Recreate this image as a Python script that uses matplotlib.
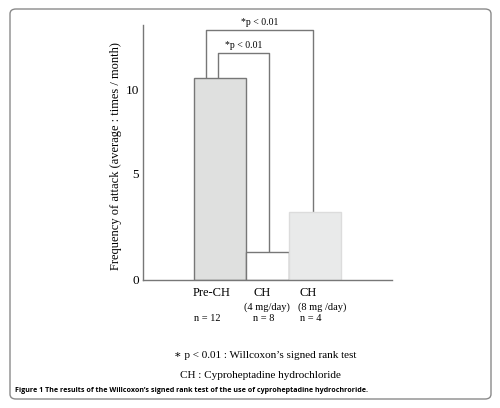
import matplotlib
matplotlib.use('Agg')
import matplotlib.pyplot as plt
from matplotlib.patches import FancyBboxPatch

# data
groups = ['Pre-CH', 'CH', 'CH']
doses = ['', '(4 mg/day)', '(8 mg /day)']
n_labels = ['n = 12', 'n = 8', 'n = 4']
freq = [10.6, 1.48, 3.56]
sig_label = '*p < 0.01'
ytick_vals = [0, 5.59, 9.98]
ytick_text = ['0', '5', '10']

# layout (axis units, 0..10 across)
bar_left = [2.06, 4.12, 5.86]
bar_width = [2.06, 1.74, 2.08]
bar_face = ['#dfe0df', 'white', '#e9eaea']
bar_edge = ['#777777', '#777777', '#dcdcdc']
group_x = [2.76, 4.78, 6.64]
dose_x = [4.98, 4.98, 7.18]
n_x = [2.58, 4.86, 6.75]

W, H = 500, 408
fig = plt.figure(figsize=(W / 100, H / 100), dpi=100)
plt.rcParams['font.family'] = ['Liberation Serif', 'DejaVu Serif']

frame = FancyBboxPatch((10 / W, 9 / H), 481 / W, 390 / H,
                       boxstyle='round,pad=0,rounding_size=0.012',
                       transform=fig.transFigure, facecolor='none',
                       edgecolor='#8a8a8a', linewidth=1.0)
fig.patches.append(frame)

ax = fig.add_axes([143 / W, (H - 280) / H, 249 / W, 255 / H])
ax.set_xlim(0, 10)
ax.set_ylim(0, 255 / 19.1)
ax.patch.set_alpha(0)

for i in range(3):
    ax.bar(bar_left[i], freq[i], width=bar_width[i], align='edge',
           color=bar_face[i], edgecolor=bar_edge[i], linewidth=1.0, zorder=2)

# significance brackets
def bracket(x1, x2, y1, y2, top, label):
    ax.plot([x1, x1, x2, x2], [y1, top, top, y2], color='#777777',
            lw=1.0, zorder=1, clip_on=False)
    ax.text((x1 + x2) / 2, top + 0.15, label, ha='center', va='bottom',
            fontsize=7)

bracket(2.53, 6.84, freq[0], freq[2], 13.1, sig_label)
bracket(3.0, 5.07, freq[0], freq[1], 11.87, sig_label)

for s in ['top', 'right']:
    ax.spines[s].set_visible(False)
for s in ['left', 'bottom']:
    ax.spines[s].set_color('#777777')
    ax.spines[s].set_linewidth(1.0)
ax.set_xticks([])
ax.set_yticks(ytick_vals)
ax.set_yticklabels(ytick_text, fontsize=9.5)
ax.tick_params(axis='y', length=0, pad=3)
ax.set_ylabel('Frequency of attack (average : times / month)', fontsize=9)
ax.yaxis.set_label_coords(-0.085, 0.485)

for i in range(3):
    ax.text(group_x[i], -0.70, groups[i], ha='center', va='center',
            fontsize=9, clip_on=False)
    if doses[i]:
        ax.text(dose_x[i], -1.43, doses[i], ha='center', va='center',
                fontsize=7.5, clip_on=False)
    ax.text(n_x[i], -2.04, n_labels[i], ha='center', va='center',
            fontsize=7.5, clip_on=False)

fig.text(265 / W, 1 - 355 / H, '\u2217 p < 0.01 : Willcoxon\u2019s signed rank test',
         ha='center', va='center', fontsize=8)
fig.text(260 / W, 1 - 375 / H, 'CH : Cyproheptadine hydrochloride',
         ha='center', va='center', fontsize=8)
fig.text(15 / W, 1 - 391 / H,
         'Figure 1 The results of the Willcoxon\u2019s signed rank test of the use of cyproheptadine hydrochroride.',
         ha='left', va='center', fontsize=5.1, fontweight='bold',
         family=['Open Sans', 'DejaVu Sans'])

fig.savefig('out.png', dpi=100)
